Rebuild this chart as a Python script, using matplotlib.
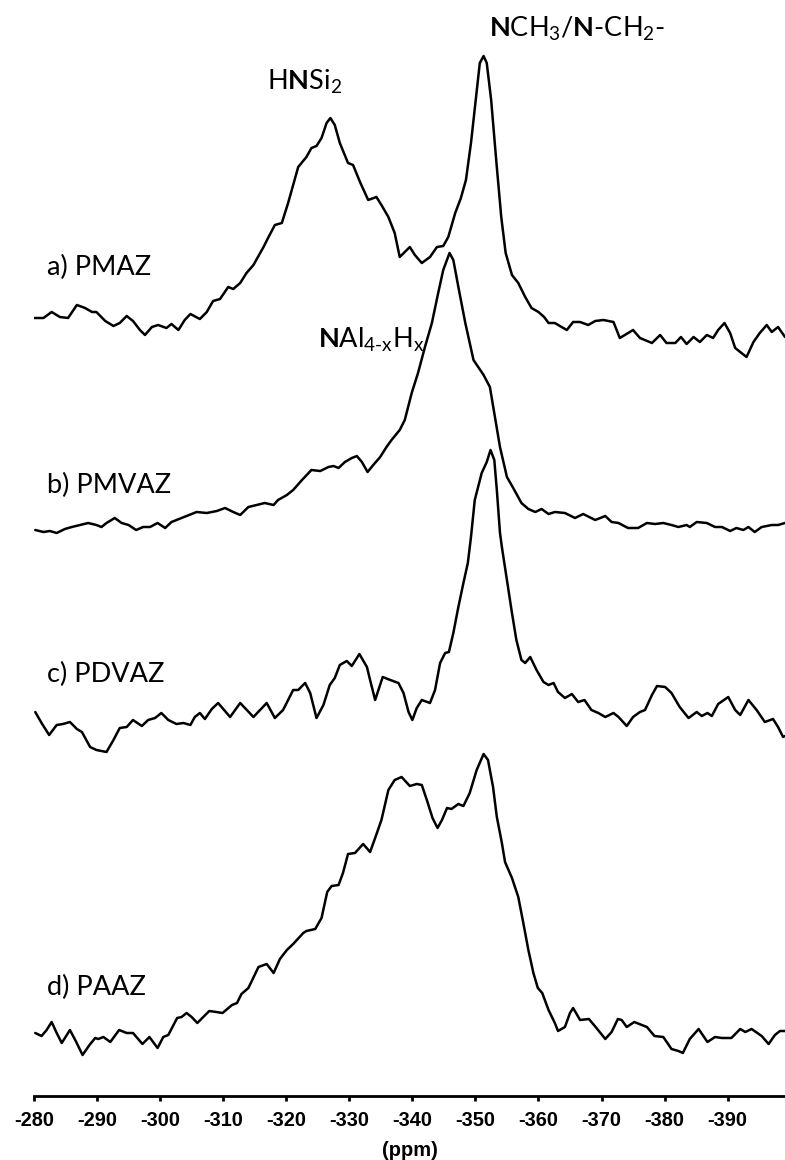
import matplotlib
matplotlib.use("Agg")
import matplotlib.pyplot as plt

# 15N CP-MAS spectra, chemical shift (ppm) vs intensity (arb. units, above baseline)
PMAZ_PPM = [-279.9, -281.5, -282.8, -284.1, -285.4, -286.8, -288.1, -289.2, -289.9, -291.3,
            -292.6, -293.6, -294.7, -295.7, -296.8, -297.6, -298.7, -299.7, -301.0, -301.8,
            -302.9, -303.9, -304.8, -306.3, -307.4, -308.4, -309.5, -310.8, -311.6, -312.7,
            -313.7, -314.8, -316.4, -317.2, -318.2, -319.3, -320.3, -321.1, -321.9, -323.2,
            -324.0, -324.8, -325.6, -326.4, -327.0, -327.7, -328.5, -329.8, -330.6, -331.7,
            -333.0, -334.3, -335.1, -336.2, -337.2, -338.0, -339.6, -340.4, -341.5, -342.8,
            -343.9, -344.9, -345.7, -346.8, -347.7, -348.5, -349.3, -350.0, -350.7, -351.3,
            -351.8, -352.5, -353.3, -354.1, -354.8, -355.8, -356.8, -357.9, -358.9, -360.0,
            -360.9, -361.6, -362.6, -363.4, -364.5, -365.5, -366.6, -367.9, -369.0, -370.3,
            -371.9, -372.9, -373.7, -375.0, -376.1, -378.0, -379.3, -380.3, -381.7, -382.6,
            -383.5, -384.6, -385.6, -386.7, -387.7, -388.5, -389.5, -390.4, -391.2, -392.2,
            -393.0, -394.1, -395.1, -396.2, -397.0, -398.0, -399.1]
PMAZ_INT = [2, 2, 8, 3, 2, 15, 12, 8, 8, -1,
            -6, -3, 4, -1, -10, -15, -7, -5, -8, -4,
            -10, 0, 6, 1, 8, 19, 21, 33, 31, 37,
            47, 55, 73, 83, 95, 97, 117, 135, 153, 163,
            172, 174, 182, 197, 202, 195, 177, 157, 155, 138,
            120, 123, 115, 103, 87, 63, 73, 65, 57, 63,
            73, 74, 83, 107, 122, 140, 177, 217, 257, 264,
            257, 220, 160, 103, 67, 45, 37, 23, 12, 8,
            3, -3, -3, -6, -10, -2, -2, -5, -1, 0,
            -2, -18, -15, -10, -18, -23, -15, -23, -23, -17,
            -24, -17, -22, -15, -18, -10, -3, -13, -28, -33,
            -37, -22, -13, -5, -12, -7, -17]

PMVAZ_PPM = [-280.2, -281.5, -282.5, -283.6, -284.9, -286.0, -287.3, -288.6, -289.9, -290.7,
             -291.5, -292.8, -293.9, -295.0, -296.2, -297.3, -298.4, -299.6, -300.8, -301.8,
             -303.4, -305.0, -305.8, -307.4, -309.0, -310.3, -311.6, -312.7, -314.0, -315.3,
             -316.6, -318.0, -318.7, -320.1, -321.1, -322.5, -324.0, -325.4, -326.7, -327.5,
             -328.3, -329.3, -330.4, -331.2, -332.0, -332.9, -333.8, -334.9, -335.9, -336.7,
             -338.0, -338.8, -339.9, -340.9, -342.0, -343.1, -344.1, -344.9, -345.9, -346.5,
             -347.3, -348.4, -349.7, -351.3, -352.3, -353.1, -353.9, -355.0, -356.0, -357.3,
             -358.4, -359.5, -360.5, -361.6, -362.6, -364.2, -365.8, -367.1, -369.0, -370.6,
             -371.6, -372.7, -374.2, -375.8, -377.2, -378.5, -379.8, -381.1, -382.2, -383.5,
             -384.0, -385.1, -386.7, -388.0, -389.1, -390.4, -391.4, -392.5, -393.3, -394.3,
             -395.4, -397.0, -398.0, -399.1]
PMVAZ_INT = [0, -2, -1, -3, 1, 3, 5, 7, 5, 3,
             7, 12, 7, 5, 0, 3, 3, 7, 2, 8,
             12, 16, 18, 17, 19, 22, 18, 15, 23, 25,
             27, 25, 30, 35, 40, 50, 60, 59, 63, 64,
             62, 68, 72, 74, 68, 58, 65, 73, 83, 90,
             100, 110, 137, 157, 183, 207, 237, 260, 277, 270,
             243, 207, 170, 155, 143, 113, 83, 53, 42, 27,
             21, 18, 21, 16, 18, 17, 12, 16, 10, 14,
             8, 7, 2, 2, 7, 6, 7, 5, 3, 5,
             3, 8, 7, 3, 3, -1, 2, 0, 3, -2,
             3, 5, 5, 7]

PDVAZ_PPM = [-280.2, -281.2, -282.4, -283.6, -284.6, -285.7, -286.8, -287.6, -288.9, -289.9,
             -291.5, -292.6, -293.6, -294.7, -295.7, -297.1, -298.1, -299.2, -300.2, -301.3,
             -302.6, -303.7, -304.8, -305.5, -306.3, -307.1, -308.2, -309.2, -311.1, -312.7,
             -314.8, -316.9, -318.2, -319.5, -321.1, -321.9, -323.0, -323.8, -324.8, -325.9,
             -326.9, -327.7, -328.5, -329.6, -330.4, -331.6, -332.8, -333.3, -334.1, -335.3,
             -336.5, -337.8, -338.6, -339.4, -340.0, -340.7, -341.5, -342.8, -343.6, -344.4,
             -345.2, -345.8, -346.5, -347.3, -348.1, -348.8, -349.3, -349.9, -351.0, -351.8,
             -352.4, -353.0, -353.4, -353.9, -354.2, -355.0, -355.8, -356.5, -357.3, -357.9,
             -358.7, -359.7, -360.8, -361.6, -362.4, -363.1, -364.2, -365.3, -366.3, -367.3,
             -368.4, -369.5, -370.6, -371.9, -372.7, -374.0, -375.0, -376.1, -376.9, -378.0,
             -378.8, -380.1, -381.1, -382.4, -383.8, -385.1, -385.9, -386.8, -387.5, -388.5,
             -390.1, -391.2, -392.0, -393.3, -394.6, -395.9, -397.2, -398.0, -398.8, -399.1]
PDVAZ_INT = [8, -3, -15, -5, -4, -2, -9, -12, -27, -30,
             -32, -20, -8, -7, 0, -6, 0, 2, 7, 0,
             -4, -3, -5, 3, 7, 1, 11, 17, 3, 17,
             3, 17, 2, 10, 30, 30, 37, 27, 2, 15,
             35, 42, 55, 59, 54, 66, 53, 40, 20, 43,
             40, 37, 27, 8, 0, 12, 20, 17, 30, 57,
             67, 68, 87, 113, 137, 157, 183, 220, 247, 258,
             270, 260, 230, 187, 173, 140, 107, 80, 60, 57,
             63, 50, 38, 35, 37, 28, 22, 26, 18, 20,
             10, 7, 3, 7, 3, -6, 3, 8, 10, 25,
             34, 33, 27, 13, 2, 8, 4, 7, 4, 16,
             23, 10, 5, 20, 10, -2, 1, -7, -17, -16]

PAAZ_PPM = [-280.2, -281.2, -282.0, -282.8, -283.6, -284.4, -285.7, -286.7, -287.7, -288.8,
            -289.7, -290.2, -291.0, -292.1, -293.5, -294.7, -295.7, -297.2, -298.3, -299.6,
            -300.5, -301.3, -302.7, -303.4, -304.2, -305.0, -305.9, -307.0, -307.8, -308.9,
            -309.9, -311.4, -312.2, -312.9, -314.0, -315.6, -316.9, -318.0, -319.0, -320.1,
            -321.1, -322.7, -323.2, -324.6, -325.6, -326.5, -327.2, -328.3, -329.0, -329.8,
            -330.9, -332.2, -333.3, -334.1, -335.1, -336.2, -337.2, -338.3, -339.6, -340.7,
            -341.5, -342.3, -343.2, -344.0, -344.7, -345.5, -346.2, -347.3, -348.1, -349.1,
            -350.2, -351.3, -352.0, -352.8, -353.4, -354.2, -354.7, -355.8, -356.8, -357.6,
            -358.4, -359.2, -359.9, -360.6, -361.6, -362.6, -363.1, -364.2, -365.0, -365.5,
            -366.6, -368.0, -369.2, -370.6, -371.6, -372.6, -373.2, -374.0, -375.2, -376.4,
            -377.2, -378.4, -379.8, -381.1, -382.2, -382.9, -384.0, -385.4, -386.8, -388.0,
            -389.1, -390.6, -392.0, -392.8, -393.8, -395.4, -396.5, -397.5, -398.3, -399.1]
PAAZ_INT = [2, -1, 5, 13, 2, -8, 5, -7, -20, -10,
            -3, -4, -2, -7, 5, 2, 2, -9, -2, -13,
            -2, 0, 17, 18, 22, 18, 12, 19, 24, 23,
            22, 30, 32, 41, 47, 68, 71, 62, 76, 85,
            91, 102, 104, 106, 117, 143, 149, 150, 162, 181,
            182, 191, 183, 197, 215, 245, 255, 258, 249, 251,
            250, 235, 217, 207, 215, 227, 226, 231, 229, 242,
            265, 281, 275, 248, 218, 192, 173, 157, 138, 112,
            85, 62, 47, 42, 25, 12, 4, 8, 22, 27,
            15, 16, 7, -4, 3, 16, 15, 8, 13, 10,
            8, -1, -2, -14, -16, -18, -4, 6, -7, -2,
            -3, -3, 6, 3, 6, -1, -9, 0, 4, 4]

SAMPLE_LABELS = ["a) PMAZ", "b) PMVAZ", "c) PDVAZ", "d) PAAZ"]
XTICKS = [-280, -290, -300, -310, -320, -330, -340, -350, -360, -370, -380, -390]

# vertical stacking of the traces (baseline heights)
OFFSETS = [776, 566, 376, 61]
LABEL_Y = [821, 603, 414, 101]

plt.rcParams["mathtext.fontset"] = "custom"
plt.rcParams["mathtext.rm"] = "Lato"
plt.rcParams["mathtext.it"] = "Lato:italic"
plt.rcParams["mathtext.bf"] = "Lato:bold"

fig = plt.figure(figsize=(7.85, 11.6), dpi=100)
ax = fig.add_axes([34 / 785, 64 / 1160, 751 / 785, 1096 / 1160])

traces = [(PMAZ_PPM, PMAZ_INT), (PMVAZ_PPM, PMVAZ_INT),
          (PDVAZ_PPM, PDVAZ_INT), (PAAZ_PPM, PAAZ_INT)]
for (ppm, inten), off in zip(traces, OFFSETS):
    ax.plot(ppm, [v + off for v in inten], color="black", lw=1.8,
            solid_joinstyle="round", solid_capstyle="round")

for lab, y in zip(SAMPLE_LABELS, LABEL_Y):
    ax.text(-282.0, y, lab, fontsize=19.5, family="Lato", ha="left", va="baseline")

ax.text(-316.9, 1006, r"H$\mathbf{N}$Si$_{2}$", fontsize=19.5, family="Lato",
        ha="left", va="baseline")
ax.text(-366.1, 1059, r"$\mathbf{N}$CH$_{3}$/$\mathbf{N}$-CH$_{2}$-", fontsize=19.5,
        family="Lato", ha="center", va="baseline")
ax.text(-325.1, 748, r"$\mathbf{N}$Al$_{\text{4-x}}$H$_{\text{x}}$", fontsize=19.5,
        family="Lato", ha="left", va="baseline")

ax.set_xlim(-280, -399.1)
ax.set_ylim(0, 1096)
ax.set_xticks(XTICKS)
ax.set_xticklabels([str(t) for t in XTICKS])
ax.set_yticks([])
for s in ["left", "right", "top"]:
    ax.spines[s].set_visible(False)
ax.spines["bottom"].set_linewidth(2.0)
ax.tick_params(axis="x", direction="out", length=3.5, width=2.0, pad=7)
for lbl in ax.get_xticklabels():
    lbl.set_fontfamily("Liberation Sans")
    lbl.set_fontweight("bold")
    lbl.set_fontsize(14.4)
ax.set_xlabel("(ppm)", fontsize=14.4, fontweight="bold",
              family="Liberation Sans", labelpad=8)

fig.savefig("out.png", dpi=100)
